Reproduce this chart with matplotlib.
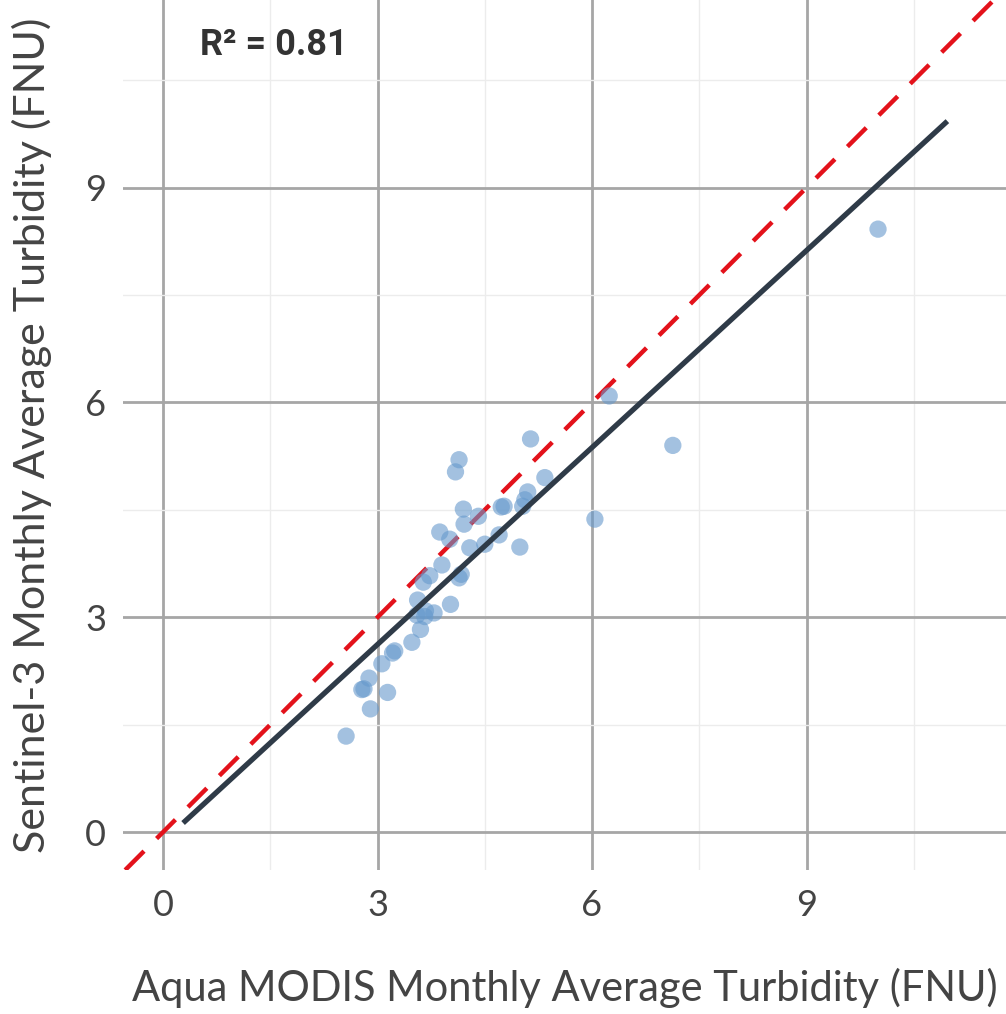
import numpy as np
import matplotlib
matplotlib.use("Agg")
import matplotlib.pyplot as plt

# monthly average turbidity (FNU): Aqua MODIS vs Sentinel-3
modis = [2.56, 2.78, 2.81, 2.88, 2.90, 3.06, 3.14, 3.21, 3.24, 3.48,
         3.55, 3.56, 3.60, 3.64, 3.66, 3.67, 3.73, 3.79, 3.87, 3.90,
         4.01, 4.02, 4.09, 4.14, 4.14, 4.17, 4.20, 4.21, 4.29, 4.41,
         4.50, 4.70, 4.73, 4.77, 4.99, 5.03, 5.06, 5.10, 5.14, 5.34,
         6.04, 6.24, 7.13, 10.00]
sentinel = [1.34, 1.99, 2.00, 2.15, 1.72, 2.35, 1.95, 2.50, 2.53, 2.65,
            3.03, 3.24, 2.83, 3.49, 3.01, 3.09, 3.58, 3.06, 4.19, 3.73,
            4.09, 3.18, 5.03, 3.55, 5.20, 3.60, 4.51, 4.30, 3.97, 4.41,
            4.02, 4.15, 4.54, 4.55, 3.98, 4.55, 4.64, 4.75, 5.49, 4.95,
            4.37, 6.09, 5.40, 8.42]
fit_range = [0.28, 10.97]
r_squared = 0.81
ticks = [0, 3, 6, 9]
minor_ticks = [1.5, 4.5, 7.5, 10.5]

text_grey = "#444444"
label_font = dict(family=["Lato", "DejaVu Sans"], weight="normal", color=text_grey)

fig = plt.figure(figsize=(10.06, 10.14), dpi=100)
ax = fig.add_axes([0.1223, 0.142, 0.8777, 0.858])

ax.set_xlim(-0.56, 11.79)
ax.set_ylim(-0.53, 11.62)

ax.set_xticks(ticks)
ax.set_yticks(ticks)
ax.set_xticks(minor_ticks, minor=True)
ax.set_yticks(minor_ticks, minor=True)
ax.grid(which="major", color="#a6a6a6", linewidth=2.0, zorder=0)
ax.grid(which="minor", color="#ececec", linewidth=1.0, zorder=0)
ax.tick_params(which="both", length=0)
ax.tick_params(axis="x", pad=14)
ax.tick_params(axis="y", pad=12)
for s in ax.spines.values():
    s.set_visible(False)
for lbl in ax.get_xticklabels() + ax.get_yticklabels():
    lbl.set_fontsize(26)
    lbl.set_fontfamily(["Lato", "DejaVu Sans"])
    lbl.set_color(text_grey)

x = np.array(modis)
y = np.array(sentinel)
slope, intercept = np.polyfit(x, y, 1)
xf = np.array(fit_range)

# 1:1 reference line
ax.axline((0, 0), slope=1, color="#e3121b", linestyle=(0, (6, 4)),
          linewidth=3.2, zorder=3)
ax.scatter(x, y, s=155, color="#6699cc", alpha=0.6, edgecolors="none", zorder=4)
ax.plot(xf, slope * xf + intercept, color="#2f3b48", linewidth=3.8,
        solid_capstyle="butt", zorder=5)

ax.text(0.52, 10.99, f"R² = {r_squared:.2f}", fontsize=26, fontweight="bold",
        family=["Roboto", "DejaVu Sans"], color="#333333", va="center", zorder=6)

ax.set_xlabel("Aqua MODIS Monthly Average Turbidity (FNU)", fontsize=30,
              labelpad=33, **label_font)
ax.set_ylabel("Sentinel-3 Monthly Average Turbidity (FNU)", fontsize=31,
              labelpad=24, **label_font)

fig.savefig("out.png", dpi=100)
